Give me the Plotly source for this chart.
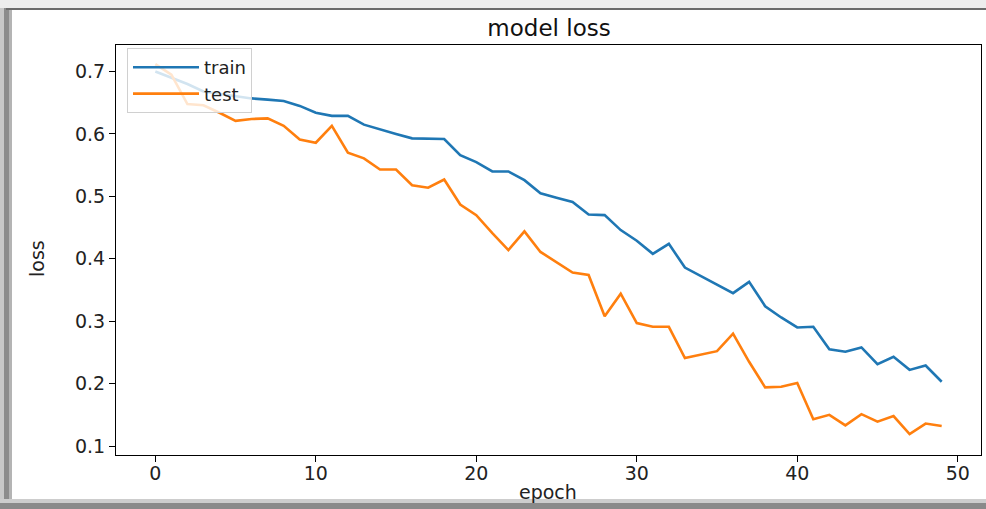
import plotly.graph_objects as go

epochs = list(range(50))
train_loss = [0.700, 0.690, 0.680, 0.668, 0.664, 0.660, 0.657, 0.655, 0.653, 0.645,
              0.634, 0.629, 0.629, 0.615, 0.607, 0.600, 0.593, 0.592, 0.592, 0.566,
              0.555, 0.540, 0.540, 0.526, 0.505, 0.498, 0.491, 0.471, 0.470, 0.446,
              0.429, 0.408, 0.424, 0.386, 0.372, 0.358, 0.345, 0.363, 0.324, 0.306,
              0.290, 0.291, 0.255, 0.251, 0.258, 0.231, 0.243, 0.222, 0.229, 0.203]
test_loss = [0.712, 0.695, 0.648, 0.646, 0.634, 0.621, 0.624, 0.625, 0.613, 0.591,
             0.586, 0.613, 0.570, 0.561, 0.543, 0.543, 0.518, 0.514, 0.527, 0.487,
             0.470, 0.441, 0.414, 0.444, 0.411, 0.395, 0.378, 0.374, 0.308, 0.344,
             0.297, 0.291, 0.291, 0.241, 0.246, 0.252, 0.280, 0.235, 0.194, 0.195,
             0.201, 0.143, 0.150, 0.133, 0.151, 0.139, 0.148, 0.119, 0.136, 0.132]
x_ticks = [0, 10, 20, 30, 40, 50]
y_ticks = [0.1, 0.2, 0.3, 0.4, 0.5, 0.6, 0.7]

W, H = 986, 509
L, R, T, B = 116, 5, 45, 54
PW, PH = W - L - R, H - T - B

def px(x):
    return (x - L) / PW

def py(y):
    return 1 - (y - T) / PH

FONT = "DejaVu Sans"

fig = go.Figure()
fig.add_trace(go.Scatter(x=epochs, y=train_loss, mode="lines", name="train",
                         line=dict(color="#1f77b4", width=2.6)))
fig.add_trace(go.Scatter(x=epochs, y=test_loss, mode="lines", name="test",
                         line=dict(color="#ff7f0e", width=2.6)))

axis_common = dict(showgrid=False, zeroline=False, showline=True, linecolor="black",
                   linewidth=1.2, mirror=True, ticks="outside", ticklen=6,
                   tickcolor="black", tickwidth=1.2,
                   tickfont=dict(family=FONT, size=19, color="#222"))

shapes = [
    dict(type="rect", xref="paper", yref="paper", x0=px(0), x1=px(4), y0=py(509), y1=py(8),
         fillcolor="#c8c8c8", line=dict(width=0), layer="above"),
    dict(type="rect", xref="paper", yref="paper", x0=px(4), x1=px(9), y0=py(509), y1=py(8),
         fillcolor="#8c8c8c", line=dict(width=0), layer="above"),
    dict(type="rect", xref="paper", yref="paper", x0=px(9), x1=px(12), y0=py(509), y1=py(8),
         fillcolor="#b4b4b4", line=dict(width=0), layer="above"),
    dict(type="rect", xref="paper", yref="paper", x0=px(0), x1=px(986), y0=py(8), y1=py(0),
         fillcolor="#ededed", line=dict(width=0), layer="above"),
    dict(type="rect", xref="paper", yref="paper", x0=px(6), x1=px(986), y0=py(10), y1=py(8),
         fillcolor="#6a6a6a", line=dict(width=0), layer="above"),
    dict(type="rect", xref="paper", yref="paper", x0=px(0), x1=px(986), y0=py(509), y1=py(503),
         fillcolor="#8a8a8a", line=dict(width=0), layer="above"),
    dict(type="rect", xref="paper", yref="paper", x0=px(0), x1=px(986), y0=py(503), y1=py(499),
         fillcolor="#cdcdcd", line=dict(width=0), layer="above"),
]

fig.update_layout(
    width=W, height=H,
    margin=dict(l=L, r=R, t=T, b=B, autoexpand=False),
    paper_bgcolor="white", plot_bgcolor="white",
    title=dict(text="model loss", x=549 / W, xanchor="center",
               y=1 - 28 / H, yanchor="middle",
               font=dict(family=FONT, size=23, color="#111")),
    xaxis=dict(range=[-2.45, 51.45], tickvals=x_ticks, ticktext=[str(v) for v in x_ticks],
               ticklabelstandoff=-5, **axis_common),
    yaxis=dict(range=[0.0856, 0.7426], tickvals=y_ticks,
               ticktext=["%.1f" % v for v in y_ticks], **axis_common),
    showlegend=True,
    legend=dict(x=px(127), y=py(48), xanchor="left", yanchor="top",
                bgcolor="rgba(255,255,255,0.8)", bordercolor="#d0d0d0", borderwidth=1,
                font=dict(family=FONT, size=18, color="#222"),
                tracegroupgap=0, itemwidth=66),
    shapes=shapes,
    annotations=[
        dict(text="epoch", xref="paper", yref="paper", x=px(548), y=py(492),
             xanchor="center", yanchor="middle", showarrow=False,
             font=dict(family=FONT, size=19, color="#222")),
        dict(text="loss", xref="paper", yref="paper", x=px(37), y=py(259),
             xanchor="center", yanchor="middle", showarrow=False, textangle=-90,
             font=dict(family=FONT, size=19, color="#222")),
    ],
)

fig.write_html("out.html", config={"displayModeBar": False},
               post_script="document.body.style.margin='0';")
